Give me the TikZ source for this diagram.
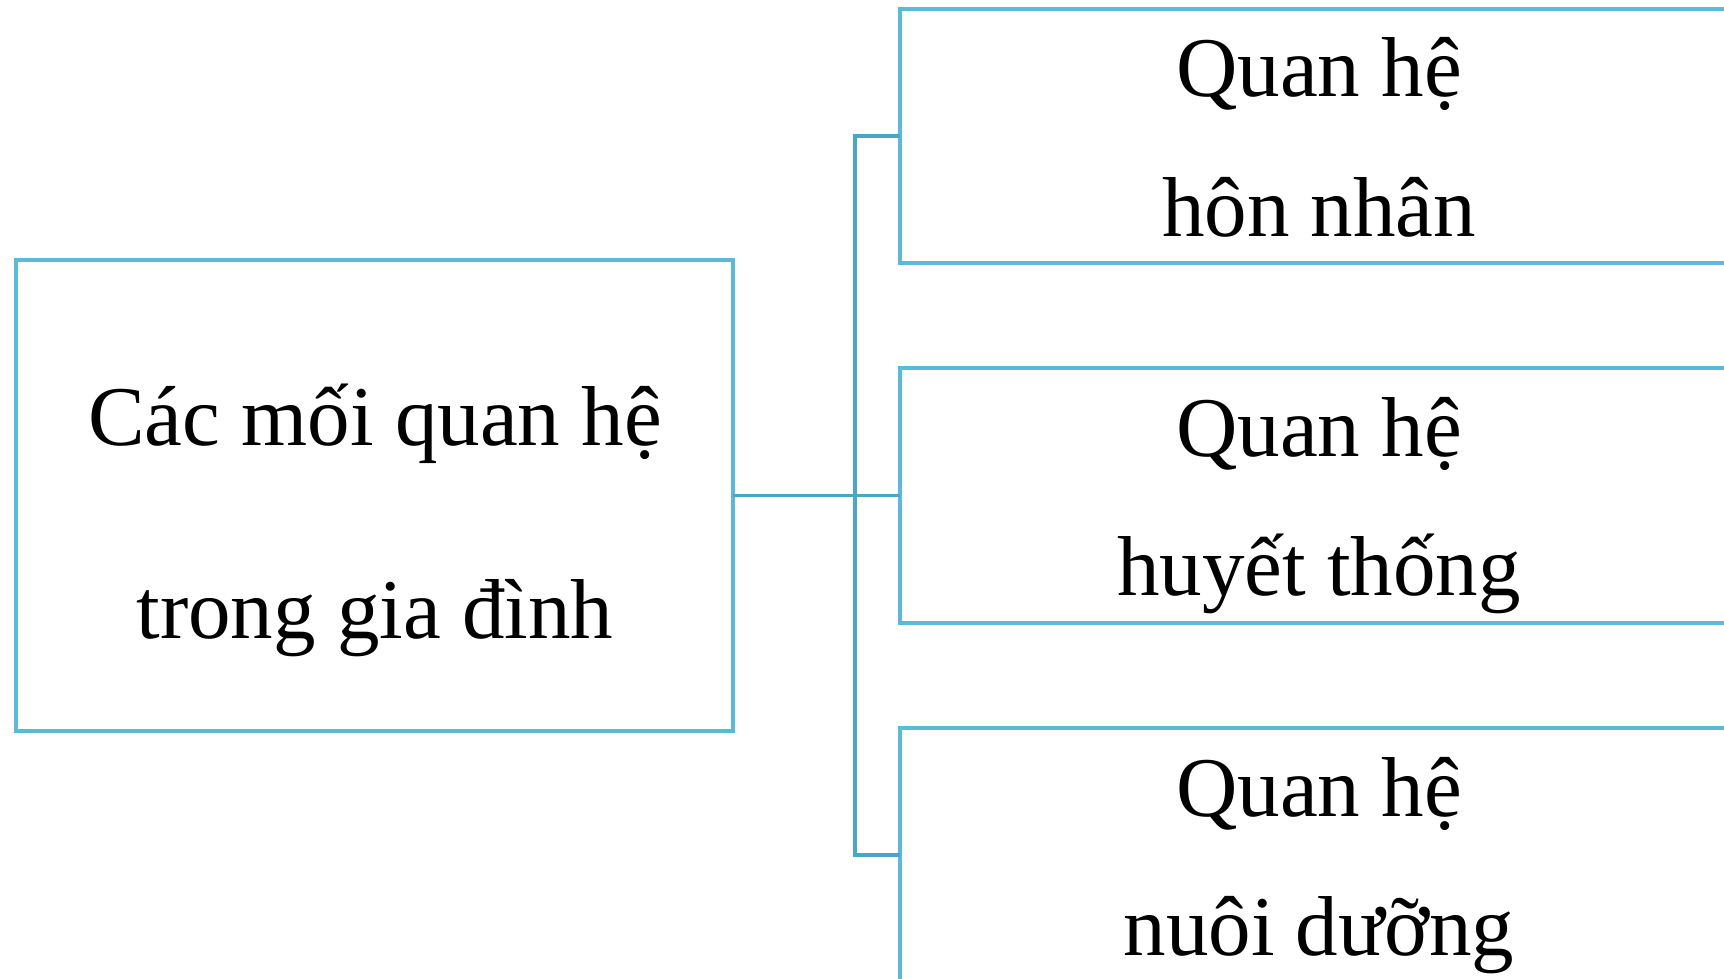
\documentclass[tikz,border=0pt]{standalone}
\usepackage{fontspec}
\setmainfont{Liberation Serif}
\definecolor{boxblue}{HTML}{5BB9D9}
\definecolor{linkblue}{HTML}{4BA6C6}
\begin{document}
\begin{tikzpicture}[x=1pt,y=-1pt,
  box/.style={draw=boxblue,line width=3.5pt,rectangle,inner sep=0pt,outer sep=0pt,anchor=north west},
  txt/.style={font=\fontsize{85}{100}\selectfont,anchor=base,inner sep=0pt,text=black},
  link/.style={draw=linkblue,line width=3.5pt}]
\useasboundingbox (0,0) rectangle (1724,979);
\clip (0,0) rectangle (1724,979);
\fill[white] (0,0) rectangle (1724,979);
\node[box,minimum width=717pt,minimum height=471pt] (root) at (16,260) {};
\node[box,minimum width=840pt,minimum height=254pt] (b1) at (900,9) {};
\node[box,minimum width=840pt,minimum height=255pt] (b2) at (900,368) {};
\node[box,minimum width=840pt,minimum height=254pt] (b3) at (900,728) {};
\node[txt] (r1) at (375,445) {Các mối quan hệ};
\node[txt] (r2) at (375,638) {trong gia đình};
\node[txt] (a1) at (1319,97) {Quan hệ};
\node[txt] (a2) at (1319,236) {hôn nhân};
\node[txt] (m1) at (1319,456) {Quan hệ};
\node[txt] (m2) at (1319,595) {huyết thống};
\node[txt] (c1) at (1319,816) {Quan hệ};
\node[txt] (c2) at (1319,955) {nuôi dưỡng};
\coordinate (bx) at (855,0);
\draw[link] (root.east) -- (root.east -| bx);
\draw[link] (b1.west) -- (b1.west -| bx) -- (b3.west -| bx) -- (b3.west);
\draw[link] (b2.west) -- (b2.west -| bx);
\end{tikzpicture}
\end{document}
